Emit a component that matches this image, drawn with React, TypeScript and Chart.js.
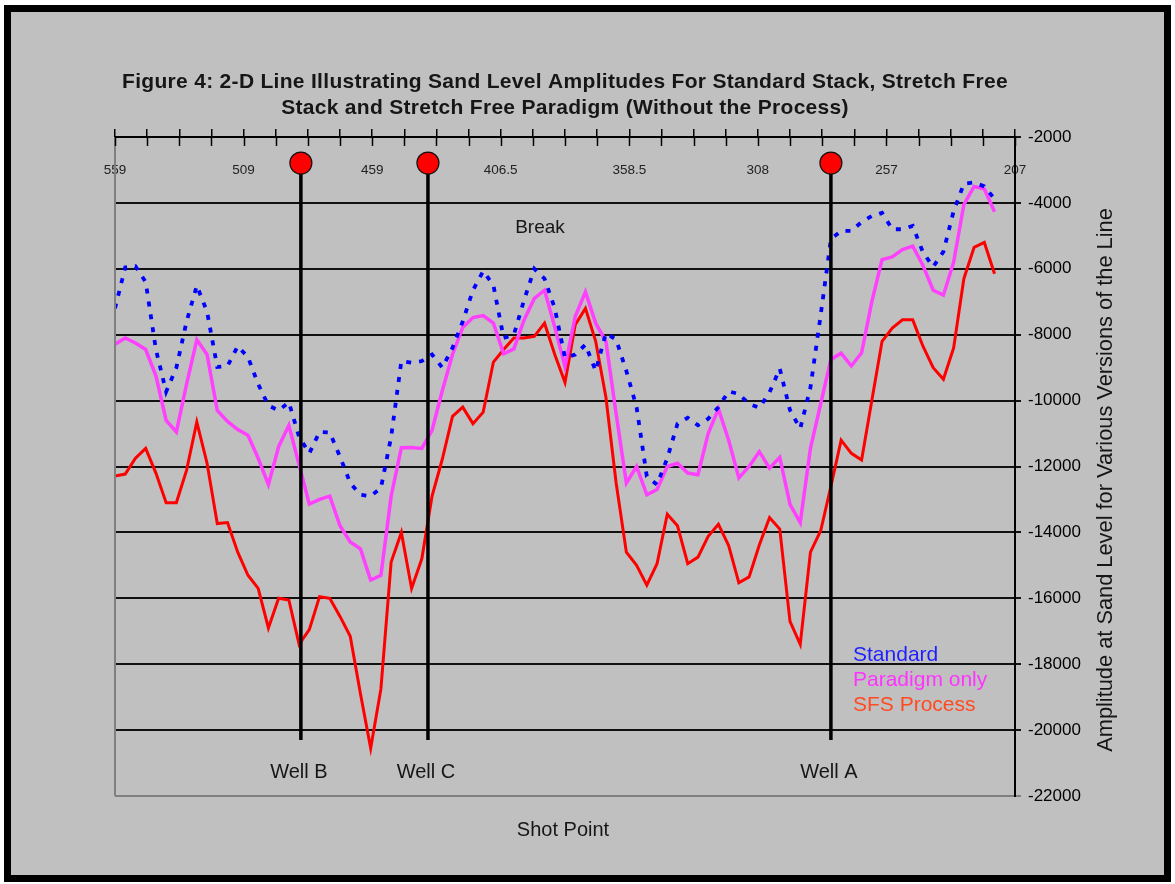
import React, { useEffect, useRef } from 'react';
import { Chart, registerables } from 'chart.js';

Chart.register(...registerables);

const FONT = "'Liberation Sans', Arial, sans-serif";

const titleLines = [
  'Figure 4: 2-D Line Illustrating Sand Level Amplitudes For Standard Stack, Stretch Free',
  'Stack and Stretch Free Paradigm (Without the Process)',
];
const xTitle = 'Shot Point';
const yTitle = 'Amplitude at Sand Level for Various Versions of the Line';
const breakLabel = 'Break';

const xTickLabels = ['559', '509', '459', '406.5', '358.5', '308', '257', '207'];
const xMin = 207;
const xMax = 559;
const yMin = -22000;
const yMax = -2000;
const yStep = 2000;

const shotPoints = [
  559, 555, 551, 547, 543, 539, 535, 531, 527, 523, 519, 515, 511, 507, 503, 499, 495, 491, 487, 483,
  479, 475, 471, 467, 463, 459, 455, 451, 447, 443, 439, 435, 431, 427, 423, 419, 415, 411, 407, 403,
  399, 395, 391, 387, 383, 379, 375, 371, 367, 363, 359, 355, 351, 347, 343, 339, 335, 331, 327, 323,
  319, 315, 311, 307, 303, 299, 295, 291, 287, 283, 279, 275, 271, 267, 263, 259, 255, 251, 247, 243,
  239, 235, 231, 227, 223, 219, 215,
];

const standard = [
  -7200, -5960, -5920, -6400, -8450, -9730, -9000, -7600, -6510, -7300,
  -8980, -8950, -8350, -8680, -9500, -10150, -10300, -10050, -11100, -11600,
  -10950, -10970, -11700, -12500, -12860, -12900, -12650, -11100, -8800, -8850,
  -8800, -8600, -9000, -8400, -7600, -6650, -6070, -6500, -8100, -8000,
  -6950, -6000, -6300, -7200, -8700, -8600, -8300, -9100, -7950, -8150,
  -9100, -10200, -12300, -12550, -11750, -10700, -10520, -10750, -10550, -10200,
  -9720, -9800, -10100, -10220, -9750, -9030, -10290, -10850, -9600, -7400,
  -5100, -4850, -4850, -4580, -4400, -4300, -4800, -4800, -4700, -5500,
  -5940, -5480, -4250, -3420, -3380, -3500, -3880,
];

const paradigm = [
  -8290, -8100, -8250, -8450, -9250, -10600, -10950, -9500, -8150, -8600,
  -10300, -10630, -10880, -11050, -11750, -12550, -11400, -10750, -11950, -13140,
  -13000, -12900, -13800, -14290, -14500, -15450, -15300, -12900, -11430, -11420,
  -11450, -10900, -9700, -8600, -7780, -7480, -7420, -7650, -8580, -8430,
  -7550, -6900, -6650, -7770, -8970, -7450, -6700, -7650, -8200, -10400,
  -12500, -12000, -12860, -12700, -12000, -11900, -12200, -12250, -11000, -10250,
  -11200, -12350, -12000, -11550, -12050, -11720, -13150, -13700, -11450, -10100,
  -8750, -8560, -8950, -8550, -7000, -5720, -5640, -5420, -5310, -5900,
  -6650, -6800, -5800, -4050, -3500, -3580, -4270,
];

const sfs = [
  -12290, -12230, -11750, -11450, -12200, -13100, -13100, -12110, -10650, -11900,
  -13730, -13700, -14600, -15300, -15700, -16900, -16000, -16050, -17400, -16950,
  -15950, -16000, -16550, -17150, -18900, -20550, -18750, -14900, -14000, -15700,
  -14800, -12900, -11780, -10480, -10200, -10700, -10350, -8830, -8450, -8100,
  -8100, -8050, -7650, -8600, -9450, -7700, -7200, -8200, -9900, -12500,
  -14600, -15000, -15600, -14950, -13450, -13800, -14950, -14750, -14120, -13750,
  -14400, -15530, -15350, -14380, -13550, -13900, -16700, -17400, -14600, -13950,
  -12600, -11200, -11600, -11800, -10000, -8200, -7800, -7550, -7550, -8350,
  -9000, -9350, -8400, -6300, -5350, -5200, -6150,
];

const seriesNames = ['Standard', 'Paradigm only', 'SFS Process'];
const seriesColors = ['#0000ff', '#ff40ff', '#ff0000'];
const legendTextColors = ['#1f1fff', '#ff33ff', '#ff4a22'];

const wellNames = ['Well B', 'Well C', 'Well A'];
const wellShotPoints = [486.3, 436.6, 279.0];
const wellTop = -2790;
const wellBottom = -20300;

const W = 1175;
const H = 884;

const decorPlugin = {
  id: 'decor',
  beforeDraw(chart: any) {
    const ctx = chart.ctx;
    ctx.save();
    ctx.fillStyle = '#ffffff';
    ctx.fillRect(0, 0, W, H);
    ctx.fillStyle = '#000000';
    ctx.fillRect(4, 5, 1167, 877);
    ctx.fillStyle = '#c0c0c0';
    ctx.fillRect(11, 12, 1153, 863);
    ctx.restore();
  },
  afterDraw(chart: any) {
    const ctx = chart.ctx;
    const area = chart.chartArea;
    const xs = chart.scales.x;
    const ys = chart.scales.y;
    ctx.save();
    // left plot border
    ctx.strokeStyle = '#808080';
    ctx.lineWidth = 2;
    ctx.beginPath();
    ctx.moveTo(area.left, area.top);
    ctx.lineTo(area.left, area.bottom);
    ctx.stroke();
    // inward halves of the top axis tick marks
    ctx.strokeStyle = '#000';
    ctx.lineWidth = 1.5;
    xs.ticks.forEach((t: any) => {
      const px = Math.round(xs.getPixelForValue(t.value)) + 0.5;
      ctx.beginPath();
      ctx.moveTo(px, area.top);
      ctx.lineTo(px, area.top + 9);
      ctx.stroke();
    });

    ctx.fillStyle = '#161616';
    ctx.textBaseline = 'middle';
    ctx.textAlign = 'center';
    // title
    ctx.font = `bold 21px ${FONT}`;
    (ctx as any).letterSpacing = '0.3px';
    titleLines.forEach((line, i) => ctx.fillText(line, (area.left + area.right) / 2, 82 + i * 26));
    (ctx as any).letterSpacing = '0px';
    // x title
    ctx.font = `20px ${FONT}`;
    ctx.fillText(xTitle, 563, 830);
    // break label
    ctx.font = `19px ${FONT}`;
    ctx.fillText(breakLabel, 540, 228);
    // well labels
    ctx.font = `20px ${FONT}`;
    wellNames.forEach((n, i) => {
      ctx.fillText(n, xs.getPixelForValue(wellShotPoints[i]) - 2, ys.getPixelForValue(wellBottom) + 32);
    });
    // legend text
    ctx.textAlign = 'left';
    ctx.font = `21px ${FONT}`;
    seriesNames.forEach((n, i) => {
      ctx.fillStyle = legendTextColors[i];
      ctx.fillText(n, 853, 655 + i * 25);
    });
    // y title (reads bottom to top)
    ctx.fillStyle = '#161616';
    ctx.font = `21.8px ${FONT}`;
    ctx.textAlign = 'center';
    ctx.translate(1106, 480);
    ctx.rotate(-Math.PI / 2);
    ctx.fillText(yTitle, 0, 0);
    ctx.restore();
  },
};

const tickCount = 28;
const xTickValues = Array.from({ length: tickCount + 1 }, (_, k) => xMax - (k * (xMax - xMin)) / tickCount);

export default function App() {
  const ref = useRef<HTMLCanvasElement>(null);

  useEffect(() => {
    const canvas = ref.current;
    if (!canvas) return;
    Chart.defaults.font.family = FONT;

    const wellSets = wellNames.map((name, i) => ({
      label: name,
      data: [
        { x: wellShotPoints[i], y: wellTop },
        { x: wellShotPoints[i], y: wellBottom },
      ],
      borderColor: '#000000',
      borderWidth: 3.5,
      pointRadius: [11, 0],
      pointBackgroundColor: '#ff0000',
      pointBorderColor: '#111111',
      pointBorderWidth: 1.2,
      fill: false,
    }));

    const values = [standard, paradigm, sfs];
    const lineSets = seriesNames.map((name, s) => ({
      label: name,
      data: shotPoints.map((x, i) => ({ x, y: values[s][i] })),
      borderColor: seriesColors[s],
      borderWidth: s === 0 ? 3.8 : s === 1 ? 3.5 : 3,
      borderDash: s === 0 ? [5, 8] : [],
      pointRadius: 0,
      fill: false,
      tension: 0,
    }));

    const chart = new Chart(canvas, {
      type: 'line',
      data: { datasets: [...wellSets, ...lineSets] as any },
      plugins: [decorPlugin],
      options: {
        responsive: false,
        animation: false,
        devicePixelRatio: 1,
        layout: { padding: { left: 115, right: 0, top: 127, bottom: 88 } },
        plugins: {
          legend: { display: false },
          tooltip: { enabled: false },
          title: { display: false },
        },
        scales: {
          x: {
            type: 'linear',
            position: 'top',
            min: xMin,
            max: xMax,
            reverse: true,
            afterBuildTicks: (scale: any) => {
              scale.ticks = xTickValues.map((v) => ({ value: v }));
            },
            afterFit: (scale: any) => {
              scale.height = 10;
            },
            grid: {
              drawOnChartArea: false,
              drawTicks: true,
              tickLength: 8,
              color: '#000000',
              lineWidth: 1.5,
            },
            border: { display: true, color: '#000000', width: 2 },
            ticks: {
              autoSkip: false,
              maxRotation: 0,
              mirror: true,
              padding: 25,
              color: '#222222',
              font: { size: 13.5, family: FONT },
              callback: (_v: any, i: number) => (i % 4 === 0 ? xTickLabels[i / 4] : ''),
            },
          },
          y: {
            type: 'linear',
            position: 'right',
            min: yMin,
            max: yMax,
            afterFit: (scale: any) => {
              scale.width = 160;
            },
            grid: {
              color: (c: any) => (c.tick && c.tick.value === yMin ? '#808080' : '#111111'),
              lineWidth: 2,
              tickLength: 6,
              drawTicks: true,
            },
            border: { display: true, color: '#000000', width: 2 },
            ticks: {
              stepSize: yStep,
              padding: 7,
              color: '#000000',
              font: { size: 17, family: FONT },
              callback: (v: any) => String(v),
            },
          },
        },
      } as any,
    });
    return () => chart.destroy();
  }, []);

  return (
    <div style={{ position: 'absolute', left: 0, top: 0, width: W, height: H }}>
      <canvas ref={ref} width={W} height={H} style={{ display: 'block', width: W, height: H }} />
    </div>
  );
}
